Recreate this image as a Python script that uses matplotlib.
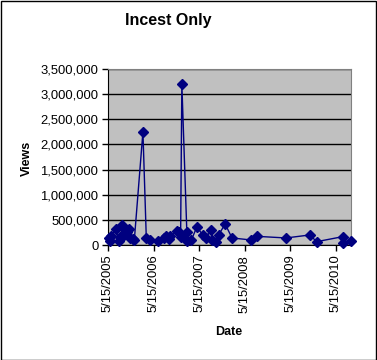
import matplotlib
matplotlib.use('Agg')
import matplotlib.pyplot as plt
import matplotlib.dates as mdates
from matplotlib.ticker import FuncFormatter
from matplotlib.patches import Rectangle
import datetime as dt

plt.rcParams['font.family'] = ['Liberation Sans', 'DejaVu Sans']

# data
dates = ['2005-05-23', '2005-05-29', '2005-06-11', '2005-07-16', '2005-08-11',
         '2005-08-22', '2005-09-07', '2005-09-18', '2005-10-04', '2005-10-14',
         '2005-10-30', '2005-11-10', '2005-12-01', '2005-12-12', '2006-02-19',
         '2006-03-18', '2006-04-14', '2006-06-19', '2006-08-06', '2006-08-25',
         '2006-09-13', '2006-09-21', '2006-11-18', '2006-12-04', '2006-12-18',
         '2006-12-28', '2007-02-06', '2007-02-10', '2007-03-13', '2007-04-27',
         '2007-06-14', '2007-07-06', '2007-08-20', '2007-08-28', '2007-09-24',
         '2007-10-20', '2007-12-10', '2008-02-03', '2008-07-05', '2008-08-22',
         '2009-04-11', '2009-10-20', '2009-12-12', '2010-07-08', '2010-07-10',
         '2010-09-13']
views = [140000, 72000, 185000, 317000, 72000,
         150000, 390000, 205000, 270000, 250000,
         317000, 140000, 120000, 100000, 2250000,
         140000, 92000, 72000, 140000, 170000,
         110000, 185000, 270000, 260000, 150000,
         3200000, 260000, 72000, 92000, 358000,
         200000, 140000, 290000, 100000, 52000,
         205000, 418000, 140000, 100000, 172000,
         140000, 200000, 66000, 165000, 40000,
         86000]
tick_dates = ['2005-05-15', '2006-05-15', '2007-05-15', '2008-05-15',
              '2009-05-15', '2010-05-15']

x = [dt.datetime.strptime(d, '%Y-%m-%d') for d in dates]
ticks = [dt.datetime.strptime(d, '%Y-%m-%d') for d in tick_dates]

fig = plt.figure(figsize=(3.77, 3.6), dpi=100)
ax = fig.add_axes([108/377, 1 - 245/360, 243/377, 176/360])
ax.set_facecolor('#C0C0C0')

ax.plot(x, views, color='#000080', lw=1, marker='D', ms=5,
        markerfacecolor='#000080', markeredgecolor='#000080', zorder=3,
        clip_on=False)

ax.set_ylim(0, 3500000)
ax.set_yticks(range(0, 3500001, 500000))
ax.yaxis.set_major_formatter(FuncFormatter(lambda v, p: '{:,.0f}'.format(v)))
ax.grid(axis='y', color='black', lw=1)
ax.set_axisbelow(True)

ax.set_xlim(dt.datetime(2005, 5, 15), dt.datetime(2010, 9, 14))
ax.set_xticks(ticks)
ax.xaxis.set_major_formatter(FuncFormatter(
    lambda v, p: '{d.month}/{d.day}/{d.year}'.format(d=mdates.num2date(v))))
for lbl in ax.get_xticklabels():
    lbl.set_rotation(90)

ax.tick_params(axis='both', labelsize=9.4, length=4, width=1, color='black', pad=3)
for s in ['top', 'right']:
    ax.spines[s].set_color('#808080')
for s in ['left', 'bottom']:
    ax.spines[s].set_color('black')

fig.text(168/377, 1 - 20/360, 'Incest Only', ha='center', va='center',
         fontsize=11.5, fontweight='bold')
fig.text(27/377, 1 - 158/360, 'Views', ha='center', va='center',
         rotation=90, fontsize=9, fontweight='bold')
fig.text(229/377, 1 - 332/360, 'Date', ha='center', va='center',
         fontsize=9, fontweight='bold')

fig.patches.append(Rectangle((0.5/377, 0.5/360), 1 - 1.5/377, 1 - 1.5/360,
                             transform=fig.transFigure, fill=False,
                             edgecolor='black', lw=1))

plt.savefig('out.png', dpi=100)
